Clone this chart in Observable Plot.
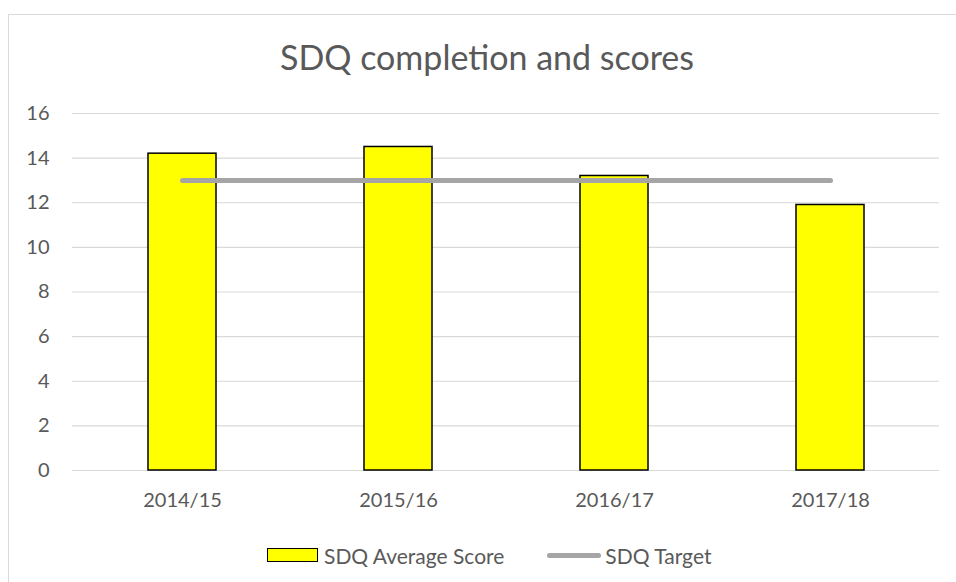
<!DOCTYPE html>
<html>
<head>
<meta charset="utf-8">
<script src="https://cdn.jsdelivr.net/npm/d3@7"></script>
<script src="https://cdn.jsdelivr.net/npm/@observablehq/plot@0.6"></script>
<style>
  html, body { margin: 0; padding: 0; background: #fff; }
  body { width: 956px; height: 582px; overflow: hidden; position: relative; font-family: Lato, "Open Sans", sans-serif; color: #595959; }
  #frame { position: absolute; left: 8px; top: 14px; width: 960px; height: 600px; border-left: 1.5px solid #d9d9d9; border-top: 1.5px solid #d9d9d9; pointer-events: none; }
  #title { height: 88px; text-align: center; font-size: 34px; line-height: 1; box-sizing: border-box; padding-left: 18px; }
  #title span { position: relative; top: 40px; }
  #legend { height: 52px; display: flex; justify-content: flex-start; align-items: center; padding-left: 267px; font-size: 21px; box-sizing: border-box; padding-bottom: 2px; }
  .item { display: flex; align-items: center; }
  .sw-bar { width: 51px; height: 14px; background: #ffff00; border: 1.5px solid #000; box-sizing: border-box; margin-right: 6px; }
  .sw-line { width: 54px; height: 5px; background: #a5a5a5; border-radius: 3px; margin-right: 4px; margin-left: 43px; }
</style>
</head>
<body>
<div id="frame"></div>
<div id="title"><span>SDQ completion and scores</span></div>
<div id="chart"></div>
<div id="legend">
  <div class="item"><div class="sw-bar"></div><span>SDQ Average Score</span></div>
  <div class="item"><div class="sw-line"></div><span>SDQ Target</span></div>
</div>
<script>
const years = ["2014/15", "2015/16", "2016/17", "2017/18"];
const averageScore = [14.2, 14.5, 13.2, 11.9];
const target = [13, 13, 13, 13];
const yTicks = [0, 2, 4, 6, 8, 10, 12, 14, 16];

const data = years.map((y, i) => ({year: y, score: averageScore[i], target: target[i]}));

const chart = Plot.plot({
  width: 956,
  height: 442,
  marginTop: 25,
  marginBottom: 60,
  marginLeft: 72,
  marginRight: 17,
  style: {fontFamily: "Lato, 'Open Sans', sans-serif", fontSize: "20px", color: "#595959", background: "transparent"},
  x: {domain: years, paddingInner: 0.686, paddingOuter: 0.343, label: null},
  y: {domain: [0, 16], label: null},
  marks: [
    Plot.gridY(yTicks, {stroke: "#d9d9d9", strokeOpacity: 1, strokeWidth: 1.2}),
    Plot.axisY(yTicks, {tickSize: 0, tickPadding: 23, fontSize: 20, fill: "#595959", label: null}),
    Plot.axisX({tickSize: 0, tickPadding: 22, fontSize: 20, fill: "#595959", label: null}),
    Plot.barY(data, {x: "year", y: "score", fill: "#ffff00", stroke: "#000", strokeWidth: 1.5}),
    Plot.lineY(data, {x: "year", y: "target", stroke: "#a5a5a5", strokeWidth: 5, strokeLinecap: "round"})
  ]
});
document.getElementById("chart").appendChild(chart);
</script>
</body>
</html>
